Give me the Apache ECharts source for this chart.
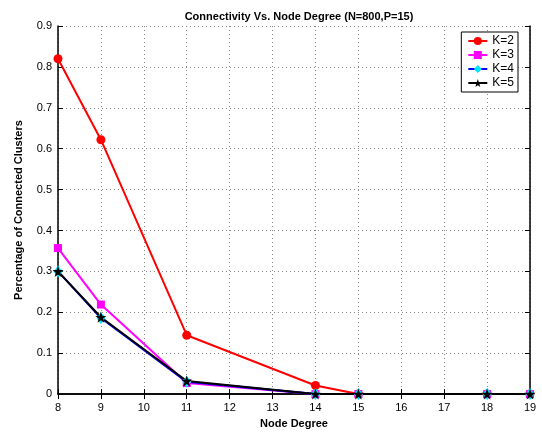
<!DOCTYPE html>
<html><head><meta charset="utf-8">
<script src="https://cdn.jsdelivr.net/npm/echarts@6/dist/echarts.min.js"></script>
<style>html,body{margin:0;padding:0;background:#fff}#c{width:542px;height:434px}</style>
</head><body><div id="c"></div>
<script>
const nodeDegree = [8, 9, 11, 14, 15, 18, 19];
const k2 = [0.82, 0.622, 0.144, 0.021, 0, 0, 0];
const k3 = [0.357, 0.219, 0.027, 0, 0, 0, 0];
const k4 = [0.300, 0.186, 0.030, 0, 0, 0, 0];
const k5 = [0.300, 0.188, 0.032, 0, 0, 0, 0];
const seriesNames = ['K=2', 'K=3', 'K=4', 'K=5'];

const star = 'path://M0,-10 L2.35,-3.24 L9.51,-3.09 L3.8,1.24 L5.88,8.09 L0,4 L-5.88,8.09 L-3.8,1.24 L-9.51,-3.09 L-2.35,-3.24 Z';
const font = 'Liberation Sans';
const pair = arr => nodeDegree.map((x, i) => [x, arr[i]]);

const chart = echarts.init(document.getElementById('c'), null, {renderer: 'canvas'});
const gridLine = {show: true, lineStyle: {color: '#888', type: [1, 3], width: 1}};
const baseAxis = {
  axisLine: {show: true, lineStyle: {color: '#000', width: 1.5}},
  axisTick: {show: true, inside: true, length: 5, lineStyle: {color: '#000'}},
  axisLabel: {color: '#000', fontFamily: font, fontSize: 11},
};
chart.setOption({
  animation: false,
  title: {
    text: 'Connectivity Vs. Node Degree (N=800,P=15)',
    left: 294, top: 6, textAlign: 'center',
    textStyle: {fontFamily: font, fontSize: 11, fontWeight: 'bold', color: '#000'}
  },
  grid: {left: 58, right: 12, top: 26, bottom: 36, show: false},
  legend: {
    right: 24, top: 32, orient: 'vertical',
    data: seriesNames,
    backgroundColor: '#fff', borderColor: '#000', borderWidth: 1,
    padding: [3, 4, 3, 6], itemGap: 2, itemWidth: 19, itemHeight: 10,
    textStyle: {fontFamily: font, fontSize: 12, lineHeight: 11, color: '#000'}
  },
  xAxis: [
    Object.assign({}, baseAxis, {
      type: 'value', min: 8, max: 19, interval: 1, position: 'bottom',
      splitLine: gridLine,
      name: 'Node Degree', nameLocation: 'middle', nameGap: 17,
      nameTextStyle: {fontFamily: font, fontSize: 11, fontWeight: 'bold', color: '#000'}
    }),
    Object.assign({}, baseAxis, {
      type: 'value', min: 8, max: 19, interval: 1, position: 'top',
      axisLabel: {show: false}, splitLine: {show: false}
    })
  ],
  yAxis: [
    Object.assign({}, baseAxis, {
      type: 'value', min: 0, max: 0.9, interval: 0.1, position: 'left',
      splitLine: gridLine,
      axisLabel: {color: '#000', fontFamily: font, fontSize: 11, margin: 6,
        formatter: v => String(Math.round(v * 10) / 10)},
      name: 'Percentage of Connected Clusters', nameLocation: 'middle', nameGap: 34,
      nameTextStyle: {fontFamily: font, fontSize: 11, fontWeight: 'bold', color: '#000'}
    }),
    Object.assign({}, baseAxis, {
      type: 'value', min: 0, max: 0.9, interval: 0.1, position: 'right',
      axisLabel: {show: false}, splitLine: {show: false}
    })
  ],
  series: [
    {name: 'K=2', type: 'line', data: pair(k2), symbol: 'circle', symbolSize: 9,
      lineStyle: {color: '#ff0000', width: 2}, itemStyle: {color: '#ff0000'}},
    {name: 'K=3', type: 'line', data: pair(k3), symbol: 'rect', symbolSize: 8,
      lineStyle: {color: '#ff00ff', width: 2}, itemStyle: {color: '#ff00ff'}},
    {name: 'K=4', type: 'line', data: pair(k4), symbol: 'diamond', symbolSize: [9, 12],
      lineStyle: {color: '#0000ff', width: 2}, itemStyle: {color: '#00e5ff'}},
    {name: 'K=5', type: 'line', data: pair(k5), symbol: star, symbolSize: 11,
      lineStyle: {color: '#000', width: 2}, itemStyle: {color: '#000'}}
  ]
});
</script></body></html>
